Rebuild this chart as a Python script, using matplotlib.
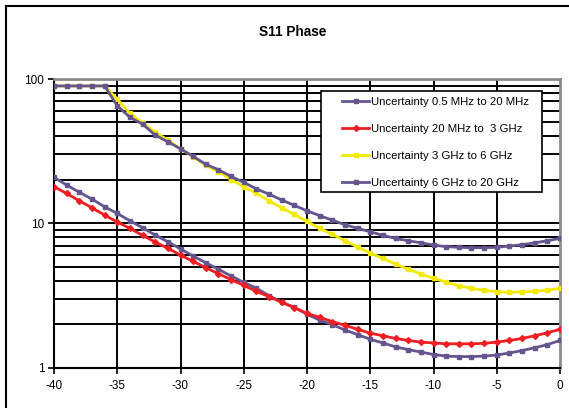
import matplotlib
matplotlib.use("Agg")
import matplotlib.pyplot as plt
from matplotlib.lines import Line2D
from matplotlib.patches import Rectangle
from matplotlib.ticker import FixedLocator, NullFormatter, FixedFormatter

plt.rcParams['font.family'] = ['Liberation Sans', 'DejaVu Sans']

x = list(range(-40, 1))

s_low_purple = [20.8, 18.4, 16.4, 14.7, 13.0, 11.7, 10.4, 9.31, 8.28, 7.44,
                6.63, 5.93, 5.32, 4.79, 4.31, 3.89, 3.54, 3.15, 2.84, 2.61,
                2.34, 2.13, 1.98, 1.82, 1.69, 1.57, 1.48, 1.39, 1.33, 1.28,
                1.23, 1.20, 1.19, 1.19, 1.20, 1.22, 1.26, 1.31, 1.37, 1.44, 1.54]

s_red = [17.9, 16.1, 14.3, 12.8, 11.4, 10.2, 9.22, 8.24, 7.41, 6.70,
         6.02, 5.44, 4.92, 4.47, 4.06, 3.71, 3.37, 3.10, 2.83, 2.60,
         2.37, 2.23, 2.08, 1.96, 1.84, 1.73, 1.66, 1.59, 1.54, 1.50,
         1.48, 1.46, 1.46, 1.46, 1.47, 1.50, 1.54, 1.59, 1.66, 1.74, 1.84]

s_yellow = [89.5, 89.5, 89.5, 89.5, 89.5, 72.6, 57.8, 49.7, 42.7, 37.7,
            32.8, 29.0, 25.2, 22.8, 20.1, 17.9, 16.1, 14.3, 12.8, 11.5,
            10.3, 9.22, 8.38, 7.56, 6.84, 6.22, 5.71, 5.21, 4.79, 4.45,
            4.15, 3.91, 3.69, 3.54, 3.43, 3.35, 3.32, 3.34, 3.37, 3.44, 3.54]

s_up_purple = [89.5, 89.5, 89.5, 89.5, 89.5, 65.2, 54.2, 48.7, 40.8, 36.7,
               32.8, 29.1, 25.6, 23.5, 21.1, 19.2, 17.3, 15.9, 14.5, 13.3,
               12.2, 11.3, 10.5, 9.77, 9.22, 8.73, 8.24, 7.85, 7.56, 7.32,
               7.06, 6.88, 6.81, 6.77, 6.77, 6.81, 6.95, 7.10, 7.32, 7.56, 7.86]

labels = ["Uncertainty 0.5 MHz to 20 MHz",
          "Uncertainty 20 MHz to  3 GHz",
          "Uncertainty 3 GHz to 6 GHz",
          "Uncertainty 6 GHz to 20 GHz"]

title = "S11 Phase"
x_ticks = [-40, -35, -30, -25, -20, -15, -10, -5, 0]
y_ticks = [1, 10, 100]

PURPLE = "#65558F"
RED = "#F01E23"
YELLOW = "#F2EA00"

W, H = 569, 408
fig = plt.figure(figsize=(W / 100, H / 100), dpi=100)
fig.patch.set_facecolor("white")

L, R, T, B = 54, 560, 79, 367.5
ax = fig.add_axes([L / W, 1 - B / H, (R - L) / W, (B - T) / H])

ax.set_yscale("log")
ax.set_xlim(-40, 0)
ax.set_ylim(1, 100)

# grid
minor = [m * 10 ** k for k in (0, 1) for m in range(2, 10)]
for v in minor + [10]:
    ax.axhline(v, color="black", lw=1.4, zorder=1)
for xv in x_ticks[1:-1]:
    ax.axvline(xv, color="black", lw=1.4, zorder=1)

ax.plot(x, s_low_purple, color=PURPLE, lw=2, marker="s", ms=3.5, zorder=3)
ax.plot(x, s_red, color=RED, lw=2, marker="D", ms=3, zorder=4)
ax.plot(x, s_yellow, color=YELLOW, lw=2, marker="s", ms=3.5, zorder=5)
ax.plot(x, s_up_purple, color=PURPLE, lw=2, marker="s", ms=3.5, zorder=6)

ax.xaxis.set_major_locator(FixedLocator(x_ticks))
ax.set_xticklabels([str(t) for t in x_ticks])
ax.yaxis.set_major_locator(FixedLocator(y_ticks))
ax.yaxis.set_major_formatter(FixedFormatter([str(t) for t in y_ticks]))
ax.yaxis.set_minor_locator(FixedLocator(minor))
ax.yaxis.set_minor_formatter(NullFormatter())
ax.tick_params(axis="y", which="minor", length=0)
ax.tick_params(axis="both", which="major", length=4, width=1.2, labelsize=8.5,
               color="black", pad=3)
ax.tick_params(axis="x", pad=5)

for s in ("left", "bottom"):
    ax.spines[s].set_color("black")
    ax.spines[s].set_linewidth(1.5)
for s in ("top", "right"):
    ax.spines[s].set_color("#8C8C8C")
    ax.spines[s].set_linewidth(2)

fig.text(293 / W, 1 - 31.5 / H, title, ha="center", va="center",
         fontsize=9.8, fontweight="bold")

# legend box
LX0, LY0, LX1, LY1 = 321, 91, 542, 192
box = Rectangle((LX0 / W, 1 - LY1 / H), (LX1 - LX0) / W, (LY1 - LY0) / H,
                transform=fig.transFigure, facecolor="white",
                edgecolor="black", lw=1.2, zorder=9)
ax.add_artist(box)
box.set_clip_on(False)

handles = [
    Line2D([], [], color=PURPLE, lw=2, marker="s", ms=3.5),
    Line2D([], [], color=RED, lw=2, marker="D", ms=3),
    Line2D([], [], color=YELLOW, lw=2, marker="s", ms=3.5),
    Line2D([], [], color=PURPLE, lw=2, marker="s", ms=3.5),
]
leg = fig.legend(handles, labels, loc="upper left",
                 bbox_to_anchor=(342 / W, 1 - 97 / H),
                 bbox_transform=fig.transFigure,
                 fontsize=8.2, frameon=False, borderpad=0, labelspacing=1.48,
                 handlelength=2.4, handletextpad=0.15, borderaxespad=0)
leg.set_zorder(10)

# outer chart border (left and top visible)
fig.add_artist(Line2D([6 / W, 6 / W], [0, 1 - 6 / H], color="black", lw=1.5,
                      transform=fig.transFigure))
fig.add_artist(Line2D([6 / W, 1], [1 - 6 / H, 1 - 6 / H], color="black", lw=1.5,
                      transform=fig.transFigure))

fig.savefig("out.png", dpi=100)
